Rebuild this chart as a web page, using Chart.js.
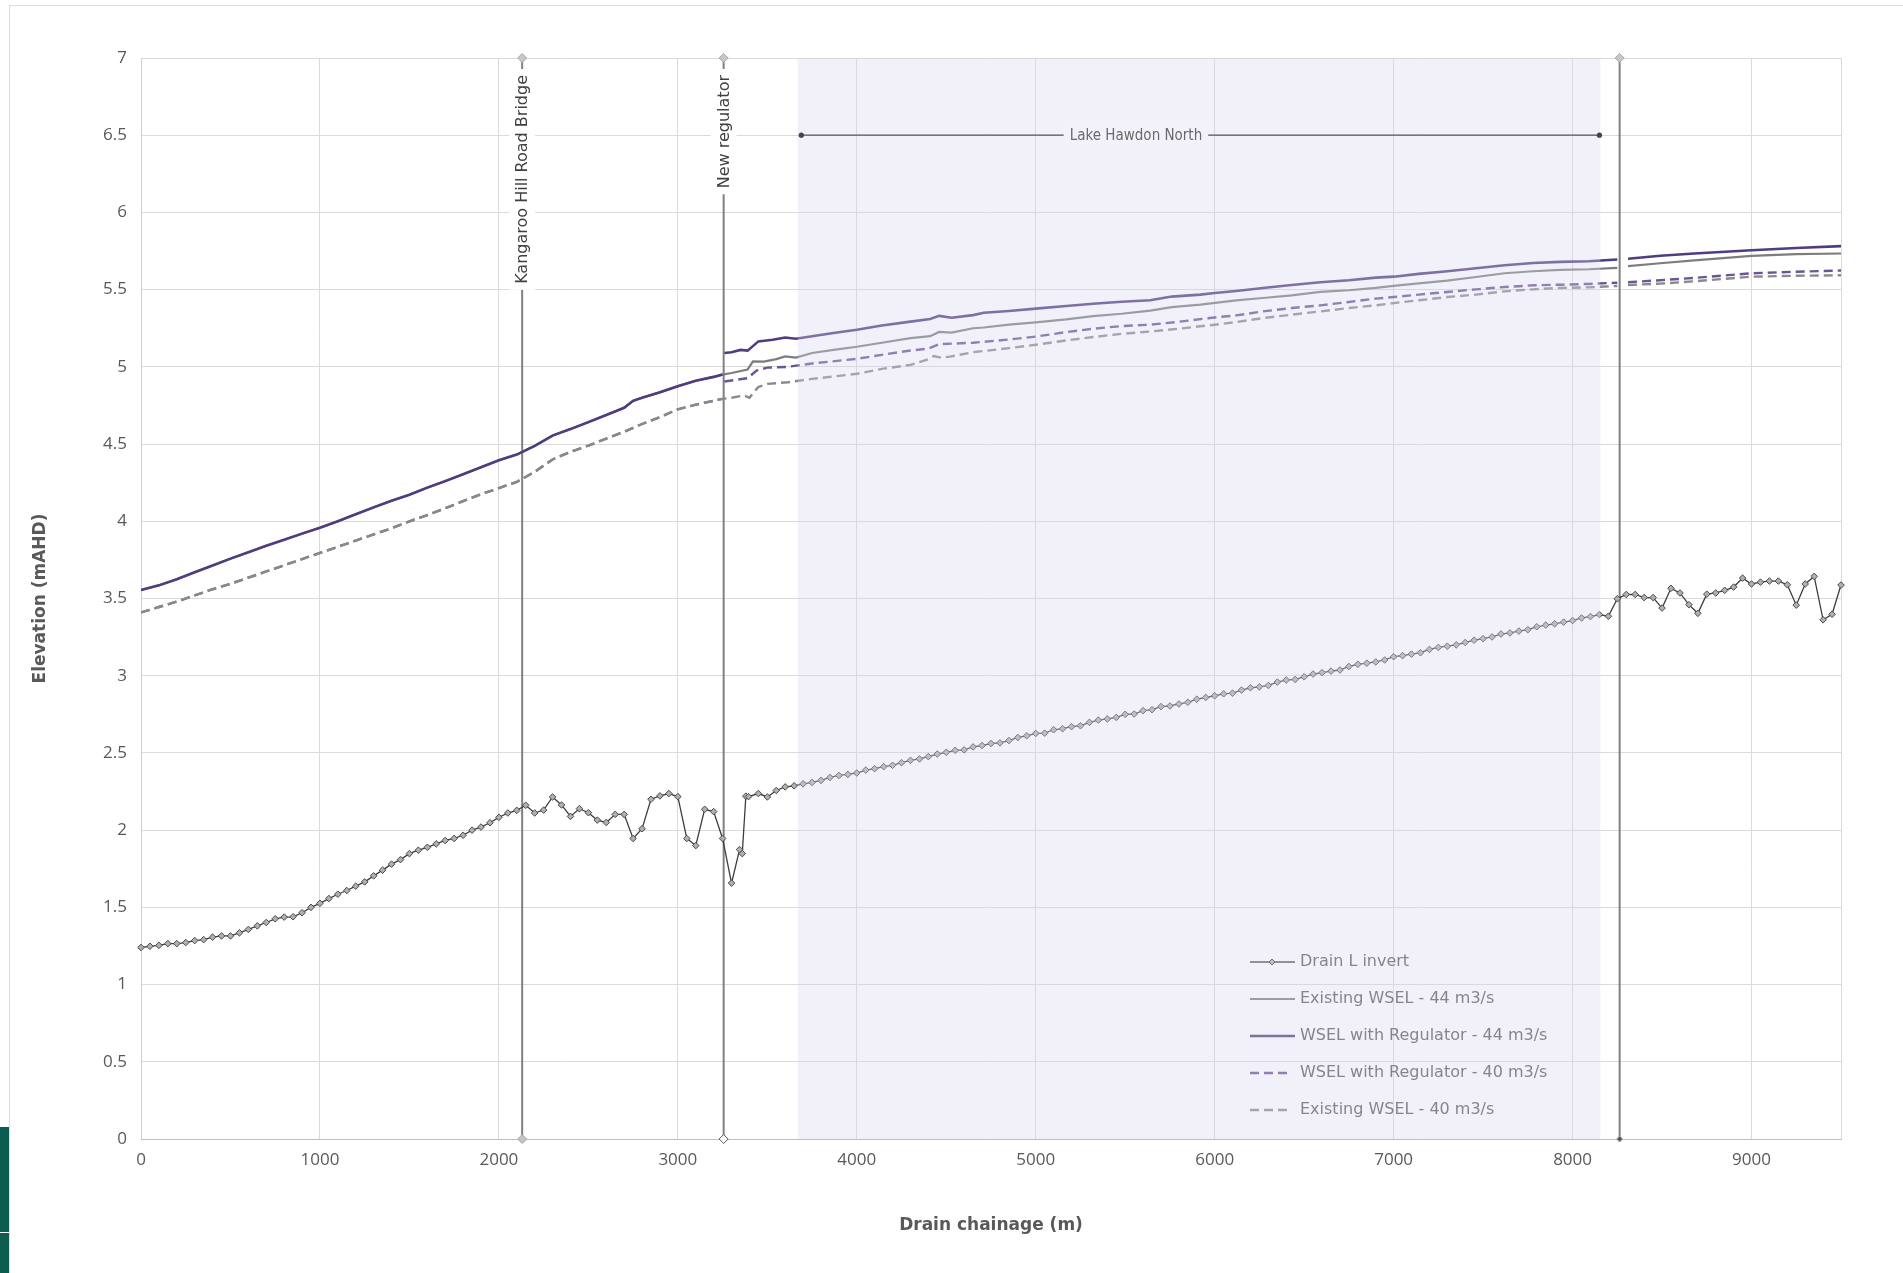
<!DOCTYPE html>
<html>
<head>
<meta charset="utf-8">
<title>Drain L long section</title>
<script src="https://cdn.jsdelivr.net/npm/chart.js@4.4.1/dist/chart.umd.min.js"></script>
<style>
  html, body { margin: 0; padding: 0; background: #fff; }
  #wrap { position: relative; width: 1903px; height: 1273px; overflow: hidden; }
  #frame { position: absolute; left: 9px; top: 5px; right: -2px; bottom: -2px; border-left: 1px solid #dcdcdc; border-top: 1px solid #dcdcdc; }
  #logo { position: absolute; left: 0; top: 1127px; width: 9px; height: 146px; background: #0d5c50; }
  #logo i { position: absolute; left: 0; top: 105px; width: 9px; height: 1px; background: #fff; }
  canvas { position: absolute; left: 0; top: 0; }
</style>
</head>
<body>
<div id="wrap">
  <div id="frame"></div>
  <div id="logo"><i></i></div>
  <canvas id="chart" width="1903" height="1273"></canvas>
</div>
<script>
// --- DATA ---
const X_TICKS = [0, 1000, 2000, 3000, 4000, 5000, 6000, 7000, 8000, 9000];
const Y_TICKS = [0, 0.5, 1, 1.5, 2, 2.5, 3, 3.5, 4, 4.5, 5, 5.5, 6, 6.5, 7];

// Drain L invert (chainage m / elevation mAHD)
const INVERT_X = [
  0, 50, 100, 150, 200, 250, 300, 350, 400, 450, 500, 550, 600, 650, 700, 750, 800, 850, 900, 950,
  1000, 1050, 1100, 1150, 1200, 1250, 1300, 1350, 1400, 1450, 1500, 1550, 1600, 1650, 1700, 1750, 1800, 1850, 1900, 1950,
  2000, 2050, 2100, 2150, 2200, 2250, 2300, 2350, 2400, 2450, 2500, 2550, 2600, 2650, 2700, 2750, 2800, 2850, 2900, 2950,
  3000, 3050, 3100, 3150, 3200, 3250, 3300, 3345, 3360, 3380, 3395, 3450, 3500, 3550, 3600, 3650, 3700, 3750, 3800, 3850, 3900, 3950,
  4000, 4050, 4100, 4150, 4200, 4250, 4300, 4350, 4400, 4450, 4500, 4550, 4600, 4650, 4700, 4750, 4800, 4850, 4900, 4950,
  5000, 5050, 5100, 5150, 5200, 5250, 5300, 5350, 5400, 5450, 5500, 5550, 5600, 5650, 5700, 5750, 5800, 5850, 5900, 5950,
  6000, 6050, 6100, 6150, 6200, 6250, 6300, 6350, 6400, 6450, 6500, 6550, 6600, 6650, 6700, 6750, 6800, 6850, 6900, 6950,
  7000, 7050, 7100, 7150, 7200, 7250, 7300, 7350, 7400, 7450, 7500, 7550, 7600, 7650, 7700, 7750, 7800, 7850, 7900, 7950,
  8000, 8050, 8100, 8150, 8200, 8250, 8300, 8350, 8400, 8450, 8500, 8550, 8600, 8650, 8700, 8750, 8800, 8850, 8900, 8950,
  9000, 9050, 9100, 9150, 9200, 9250, 9300, 9350, 9400, 9450, 9500
];
const INVERT_Y = [
  1.24, 1.248, 1.254, 1.265, 1.265, 1.272, 1.285, 1.291, 1.307, 1.315, 1.315, 1.335, 1.357, 1.38, 1.402, 1.426, 1.437, 1.439, 1.465, 1.5,
  1.526, 1.557, 1.585, 1.609, 1.637, 1.665, 1.704, 1.741, 1.78, 1.809, 1.848, 1.87, 1.889, 1.911, 1.933, 1.946, 1.967, 2.0, 2.02, 2.048,
  2.083, 2.111, 2.128, 2.161, 2.111, 2.13, 2.215, 2.163, 2.089, 2.139, 2.113, 2.065, 2.05, 2.102, 2.102, 1.946, 2.009, 2.2, 2.222, 2.237,
  2.217, 1.946, 1.9, 2.135, 2.12, 1.946, 1.657, 1.874, 1.848, 2.22, 2.217, 2.237, 2.215, 2.257, 2.28, 2.287, 2.3, 2.309, 2.322, 2.341, 2.354, 2.361,
  2.37, 2.389, 2.398, 2.411, 2.42, 2.437, 2.452, 2.461, 2.476, 2.493, 2.504, 2.517, 2.52, 2.539, 2.548, 2.561, 2.565, 2.58, 2.6, 2.611,
  2.626, 2.628, 2.65, 2.657, 2.67, 2.676, 2.698, 2.713, 2.72, 2.73, 2.75, 2.752, 2.774, 2.78, 2.8, 2.804, 2.817, 2.828, 2.848, 2.859,
  2.87, 2.883, 2.887, 2.907, 2.922, 2.928, 2.937, 2.959, 2.972, 2.976, 2.993, 3.011, 3.02, 3.03, 3.037, 3.06, 3.074, 3.081, 3.089, 3.102,
  3.123, 3.13, 3.14, 3.149, 3.17, 3.183, 3.191, 3.2, 3.215, 3.23, 3.24, 3.251, 3.27, 3.277, 3.289, 3.298, 3.317, 3.328, 3.336, 3.347,
  3.357, 3.374, 3.383, 3.396, 3.385, 3.498, 3.526, 3.526, 3.506, 3.506, 3.438, 3.566, 3.536, 3.46, 3.404, 3.528, 3.536, 3.553, 3.574, 3.632,
  3.594, 3.606, 3.613, 3.613, 3.589, 3.457, 3.594, 3.643, 3.362, 3.398, 3.587
];

// WSEL upstream of the regulator (same for both scenarios)
const WSEL_PRE_X = [0, 100, 200, 300, 400, 500, 600, 700, 800, 900, 1000, 1100, 1200, 1300, 1400, 1500, 1600, 1700, 1800, 1900,
  2000, 2100, 2200, 2300, 2400, 2500, 2600, 2700, 2750, 2800, 2900, 3000, 3100, 3200, 3250];
const WSEL44_PRE = [3.555, 3.585, 3.625, 3.67, 3.714, 3.758, 3.8, 3.842, 3.88, 3.92, 3.958, 4.0, 4.045, 4.09, 4.133, 4.172, 4.218, 4.26, 4.305, 4.35,
  4.395, 4.432, 4.488, 4.555, 4.597, 4.642, 4.688, 4.735, 4.78, 4.8, 4.835, 4.875, 4.91, 4.935, 4.95];
const WSEL40_PRE = [3.41, 3.445, 3.48, 3.52, 3.56, 3.595, 3.635, 3.675, 3.715, 3.755, 3.795, 3.835, 3.875, 3.915, 3.955, 4.0, 4.04, 4.085, 4.13, 4.175,
  4.215, 4.255, 4.32, 4.4, 4.45, 4.49, 4.535, 4.58, 4.605, 4.63, 4.675, 4.725, 4.755, 4.78, 4.793];

// downstream of the regulator, per scenario (null = break in the line)
const EX44_X = [3300, 3390, 3420, 3480, 3550, 3600, 3660, 3750, 3870, 4000, 4140, 4300, 4410, 4460, 4530, 4650, 4710, 4850, 5000, 5170,
  5320, 5480, 5640, 5760, 5920, 6120, 6270, 6430, 6590, 6750, 6900, 7000, 7140, 7300, 7460, 7620, 7780, 7930, 8090, 8250,
  8275, 8310, 8490, 8680, 9000, 9250, 9500];
const EX44_Y = [4.96, 4.983, 5.035, 5.034, 5.05, 5.068, 5.06, 5.09, 5.11, 5.13, 5.156, 5.186, 5.199, 5.226, 5.222, 5.25, 5.255, 5.273, 5.288, 5.307,
  5.329, 5.344, 5.364, 5.387, 5.403, 5.431, 5.446, 5.463, 5.485, 5.496, 5.511, 5.524, 5.541, 5.558, 5.582, 5.606, 5.619, 5.628, 5.632, 5.641,
  null, 5.652, 5.671, 5.69, 5.719, 5.73, 5.734];

const REG44_X = [3255, 3260, 3300, 3350, 3390, 3450, 3530, 3600, 3660, 3750, 3860, 4000, 4140, 4300, 4410, 4460, 4530, 4650, 4710, 4850,
  5000, 5170, 5320, 5480, 5640, 5760, 5920, 6000, 6120, 6270, 6430, 6590, 6750, 6900, 7000, 7140, 7300, 7460, 7620, 7780,
  7930, 8090, 8250, 8275, 8310, 8490, 8680, 9000, 9250, 9500];
const REG44_Y = [null, 5.09, 5.095, 5.11, 5.105, 5.165, 5.175, 5.19, 5.182, 5.198, 5.218, 5.24, 5.268, 5.293, 5.31, 5.33, 5.318, 5.335, 5.35, 5.362,
  5.377, 5.394, 5.409, 5.422, 5.431, 5.455, 5.468, 5.478, 5.491, 5.511, 5.53, 5.548, 5.561, 5.578, 5.584, 5.602, 5.619, 5.639, 5.658, 5.673,
  5.68, 5.684, 5.695, null, 5.7, 5.719, 5.734, 5.755, 5.77, 5.782];

const REG40_X = [3255, 3260, 3390, 3440, 3500, 3615, 3750, 4000, 4140, 4300, 4400, 4460, 4650, 4850, 5000, 5170, 5320, 5480, 5640, 5800,
  6000, 6120, 6270, 6430, 6590, 6750, 6900, 7000, 7140, 7300, 7460, 7620, 7780, 7930, 8090, 8250, 8275, 8310, 8490, 8680,
  9000, 9250, 9500];
const REG40_Y = [null, 4.905, 4.927, 4.976, 4.995, 5.0, 5.022, 5.052, 5.078, 5.106, 5.118, 5.147, 5.156, 5.177, 5.196, 5.225, 5.247, 5.264, 5.273, 5.292,
  5.32, 5.333, 5.359, 5.381, 5.398, 5.42, 5.442, 5.452, 5.468, 5.485, 5.502, 5.517, 5.528, 5.532, 5.537, 5.545, null, 5.548, 5.561, 5.576,
  5.606, 5.616, 5.624];

const EX40_X = [3300, 3370, 3400, 3450, 3500, 3615, 3750, 4000, 4140, 4300, 4400, 4430, 4470, 4520, 4650, 4850, 5000, 5170, 5320, 5480,
  5640, 5800, 6000, 6120, 6270, 6430, 6590, 6750, 6900, 7000, 7140, 7300, 7460, 7620, 7780, 7930, 8090, 8250, 8275, 8310,
  8490, 8680, 9000, 9250, 9500];
const EX40_Y = [4.8, 4.815, 4.8, 4.87, 4.89, 4.9, 4.922, 4.955, 4.987, 5.013, 5.05, 5.07, 5.06, 5.066, 5.095, 5.121, 5.143, 5.171, 5.193, 5.214,
  5.229, 5.247, 5.273, 5.29, 5.316, 5.338, 5.359, 5.381, 5.398, 5.413, 5.431, 5.452, 5.468, 5.489, 5.502, 5.511, 5.515, 5.524, null, 5.53,
  5.539, 5.554, 5.584, 5.59, 5.593];

// structures along the drain
const MARKER_X = [2130, 3256, 8263];
const MARKER_LABELS = ['Kangaroo Hill Road Bridge', 'New regulator', ''];
const MARKER_BOTTOM_FILL = ['#c4c4c4', '#ffffff', '#555555'];

// Lake Hawdon North reach
const REACH_SHADE = [3670, 8155];
const REACH_LINE = [3690, 8150];
const REACH_LEVEL = 6.5;
const REACH_LABEL = 'Lake Hawdon North';
const REACH_LABEL_AT = 5560;

// --- HELPERS ---
const pts = (xs, ys) => xs.map((x, i) => ({ x, y: ys[i] }));
const DASH = [9, 5];

function markerDataset(i) {
  return {
    data: [{ x: MARKER_X[i], y: 0 }, { x: MARKER_X[i], y: 7 }],
    borderColor: '#808080',
    borderWidth: 2,
    pointStyle: 'rectRot',
    pointRadius: i === 2 ? [3, 4.5] : 4.5,
    pointBackgroundColor: [MARKER_BOTTOM_FILL[i], '#c8c8c8'],
    pointBorderColor: [i === 1 ? '#555555' : '#a6a6a6', '#a6a6a6'],
    pointBorderWidth: 1,
    order: 9,
    clip: false
  };
}

function drawLegend(chart) {
  const { ctx, chartArea: a } = chart;
  const left = a.left + 1109, top = a.top + 904;
  chart.data.datasets.filter(d => d.label).forEach((d, i) => {
    const yy = top + i * 37;
    ctx.save();
    ctx.strokeStyle = d.borderColor;
    ctx.lineWidth = d.borderWidth;
    ctx.setLineDash(d.borderDash || []);
    ctx.beginPath();
    ctx.moveTo(left, yy);
    ctx.lineTo(left + (d.borderDash ? 37 : 45), yy);
    ctx.stroke();
    if (d.pointStyle === 'rectRot') {
      ctx.setLineDash([]);
      ctx.fillStyle = d.pointBackgroundColor;
      ctx.lineWidth = 1;
      ctx.beginPath();
      ctx.moveTo(left + 22, yy - 3); ctx.lineTo(left + 25, yy); ctx.lineTo(left + 22, yy + 3); ctx.lineTo(left + 19, yy);
      ctx.closePath(); ctx.fill(); ctx.stroke();
    }
    ctx.fillStyle = '#5a5a5a';
    ctx.font = '16px "DejaVu Sans"';
    ctx.textBaseline = 'middle';
    ctx.fillText(d.label, left + 50, yy);
    ctx.restore();
  });
}

const annotations = {
  id: 'annotations',
  afterDatasetsDraw(chart) {
    const { ctx, chartArea: a, scales: { x, y } } = chart;
    ctx.save();

    drawLegend(chart);

    // shaded reach, laid over the series as in the original
    const sx0 = x.getPixelForValue(REACH_SHADE[0]);
    const sx1 = x.getPixelForValue(REACH_SHADE[1]);
    ctx.fillStyle = 'rgba(218,210,238,0.34)';
    ctx.fillRect(sx0, a.top, sx1 - sx0, a.bottom - a.top);

    // vertical structure labels
    ctx.font = '16px "DejaVu Sans"';
    ctx.textBaseline = 'middle';
    MARKER_X.forEach((mx, i) => {
      const label = MARKER_LABELS[i];
      if (!label) return;
      const px = x.getPixelForValue(mx);
      const top = y.getPixelForValue(7) + 17;
      const w = ctx.measureText(label).width;
      ctx.save();
      ctx.translate(px, top);
      ctx.rotate(-Math.PI / 2);
      ctx.fillStyle = '#ffffff';
      ctx.fillRect(-w - 6, -13, w + 12, 26);
      ctx.fillStyle = '#404040';
      ctx.textAlign = 'right';
      ctx.fillText(label, 0, 1);
      ctx.restore();
    });

    // Lake Hawdon North bracket
    const ly = y.getPixelForValue(REACH_LEVEL);
    const lx0 = x.getPixelForValue(REACH_LINE[0]);
    const lx1 = x.getPixelForValue(REACH_LINE[1]);
    ctx.strokeStyle = '#555555';
    ctx.lineWidth = 1.3;
    ctx.beginPath(); ctx.moveTo(lx0, ly); ctx.lineTo(lx1, ly); ctx.stroke();
    ctx.fillStyle = '#444444';
    [lx0, lx1].forEach(px => { ctx.beginPath(); ctx.arc(px, ly, 2.6, 0, Math.PI * 2); ctx.fill(); });
    ctx.font = '15px "DejaVu Sans Condensed", "DejaVu Sans"';
    const cx = x.getPixelForValue(REACH_LABEL_AT);
    const tw = ctx.measureText(REACH_LABEL).width;
    ctx.fillStyle = '#f3f1f9';
    ctx.fillRect(cx - tw / 2 - 6, ly - 10, tw + 12, 20);
    ctx.fillStyle = '#6a6a6a';
    ctx.textAlign = 'center';
    ctx.fillText(REACH_LABEL, cx, ly + 1);

    ctx.restore();
  }
};

// --- CHART ---
const ctx = document.getElementById('chart').getContext('2d');
new Chart(ctx, {
  type: 'line',
  data: {
    datasets: [
      {
        label: 'Drain L invert',
        data: pts(INVERT_X, INVERT_Y),
        borderColor: '#3d3d3d',
        borderWidth: 1.3,
        pointStyle: 'rectRot',
        pointRadius: 3.3,
        pointBackgroundColor: '#b0b0b0',
        pointBorderColor: '#4a4a4a',
        pointBorderWidth: 1,
        order: 1,
        clip: false
      },
      {
        label: 'Existing WSEL - 44 m3/s',
        data: pts(WSEL_PRE_X.concat(EX44_X), WSEL44_PRE.concat(EX44_Y)),
        borderColor: '#7d7d7d',
        borderWidth: 2.2,
        pointRadius: 0,
        order: 3
      },
      {
        label: 'WSEL with Regulator - 44 m3/s',
        data: pts(WSEL_PRE_X.concat(REG44_X), WSEL44_PRE.concat(REG44_Y)),
        borderColor: '#503d80',
        borderWidth: 2.6,
        pointRadius: 0,
        order: 2
      },
      {
        label: 'WSEL with Regulator - 40 m3/s',
        data: pts(WSEL_PRE_X.concat(REG40_X), WSEL40_PRE.concat(REG40_Y)),
        borderColor: '#6b5593',
        borderWidth: 2.4,
        borderDash: DASH,
        pointRadius: 0,
        order: 5
      },
      {
        label: 'Existing WSEL - 40 m3/s',
        data: pts(WSEL_PRE_X.concat(EX40_X), WSEL40_PRE.concat(EX40_Y)),
        borderColor: '#8a8a8a',
        borderWidth: 2.4,
        borderDash: DASH,
        pointRadius: 0,
        order: 4
      },
      markerDataset(0),
      markerDataset(1),
      markerDataset(2)
    ]
  },
  options: {
    responsive: false,
    devicePixelRatio: 1,
    animation: false,
    events: [],
    layout: { padding: { top: 58, right: 62, left: 0, bottom: 0 } },
    elements: { line: { tension: 0 } },
    plugins: {
      legend: { display: false },
      tooltip: { enabled: false }
    },
    scales: {
      x: {
        type: 'linear',
        min: 0,
        max: 9500,
        afterBuildTicks: s => { s.ticks = X_TICKS.concat([9500]).map(v => ({ value: v })); },
        afterFit: s => { s.height = 134; },
        ticks: {
          callback: v => (X_TICKS.includes(v) ? String(v) : ''),
          color: '#595959',
          font: { family: '"Open Sans"', size: 17 },
          padding: 11,
          maxRotation: 0,
          autoSkip: false
        },
        grid: { color: '#dadada', lineWidth: 1, drawTicks: false },
        border: { color: '#bfbfbf', width: 1 },
        title: {
          display: true,
          text: 'Drain chainage (m)',
          color: '#595959',
          font: { family: '"DejaVu Sans"', size: 17, weight: 'bold' },
          padding: { top: 0, bottom: 37 }
        }
      },
      y: {
        min: 0,
        max: 7,
        afterBuildTicks: s => { s.ticks = Y_TICKS.map(v => ({ value: v })); },
        afterFit: s => { s.width = 141; },
        ticks: {
          callback: v => String(v),
          color: '#595959',
          font: { family: '"Open Sans"', size: 17 },
          padding: 14
        },
        grid: { color: '#dadada', lineWidth: 1, drawTicks: false },
        border: { color: '#d0d0d0', width: 1 },
        title: {
          display: true,
          text: 'Elevation (mAHD)',
          color: '#595959',
          font: { family: '"DejaVu Sans"', size: 17, weight: 'bold' },
          padding: { top: 30, bottom: 0 }
        }
      }
    }
  },
  plugins: [annotations]
});
</script>
</body>
</html>
